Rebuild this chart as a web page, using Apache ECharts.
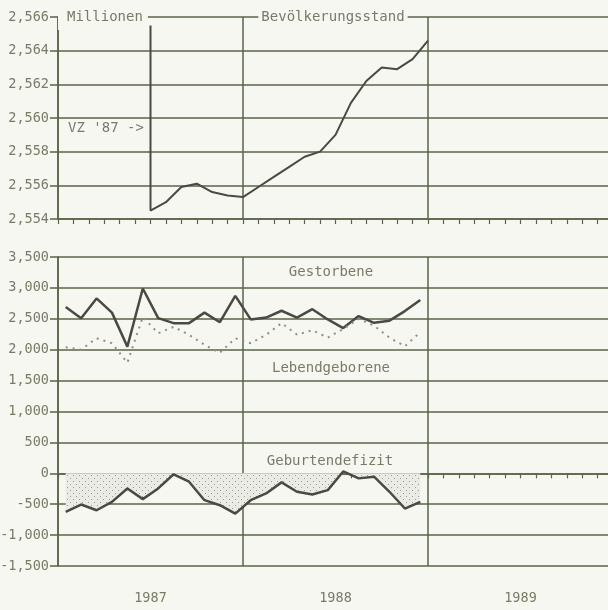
<!DOCTYPE html>
<html>
<head>
<meta charset="utf-8">
<script src="https://cdn.jsdelivr.net/npm/echarts@6/dist/echarts.min.js"></script>
<style>
  html, body { margin: 0; padding: 0; background: #f7f7f2; }
  #chart { width: 608px; height: 610px; }
</style>
</head>
<body>
<div id="chart"></div>
<script>
  // population (Mio.), month-end positions: months since 1.1.1987
  const popMonth = [6, 6, 7, 8, 9, 10, 11, 12, 13, 14, 15, 16, 17, 18, 19, 20, 21, 22, 23, 24];
  const popMillions = [2.5655, 2.5545, 2.5550, 2.5559, 2.5561, 2.5556, 2.5554, 2.5553, 2.5559, 2.5565,
    2.5571, 2.5577, 2.5580, 2.5590, 2.5609, 2.5622, 2.5630, 2.5629, 2.5635, 2.5646];

  // monthly values Jan 1987 .. Dec 1988, plotted at mid-month
  const monthMid = [0.5, 1.5, 2.5, 3.5, 4.5, 5.5, 6.5, 7.5, 8.5, 9.5, 10.5, 11.5,
    12.5, 13.5, 14.5, 15.5, 16.5, 17.5, 18.5, 19.5, 20.5, 21.5, 22.5, 23.5];
  const gestorbene = [2690, 2510, 2830, 2600, 2050, 2990, 2510, 2430, 2430, 2600, 2445, 2870,
    2490, 2520, 2630, 2520, 2655, 2490, 2350, 2545, 2435, 2470, 2625, 2805];
  const lebendgeborene = [2040, 2000, 2185, 2105, 1790, 2530, 2265, 2370, 2240, 2080, 1950, 2185,
    2105, 2240, 2430, 2245, 2315, 2195, 2335, 2500, 2390, 2195, 2055, 2285];
  const defizit = [-625, -505, -598, -462, -245, -418, -245, -16, -136, -435, -516, -652,
    -435, -326, -147, -299, -342, -272, 30, -82, -54, -299, -570, -462];

  const yearLabels = ['1987', '1988', '1989'];

  const bg = '#f7f7f2';
  const gridColor = '#59644a';
  const textColor = '#7a7a68';
  const lineColor = '#4a4a44';
  const font = '14px "DejaVu Sans Mono", monospace';

  function zip(xs, ys) {
    return xs.map(function (x, i) { return [x, ys[i]]; });
  }

  // dotted fill for the deficit area
  function dotPattern() {
    var c = document.createElement('canvas');
    c.width = 6; c.height = 6;
    var ctx = c.getContext('2d');
    ctx.fillStyle = '#ebebe5';
    ctx.fillRect(0, 0, 6, 6);
    ctx.fillStyle = '#9c9c90';
    ctx.fillRect(1, 1, 1, 1);
    ctx.fillRect(4, 4, 1, 1);
    return c;
  }

  // vertical grid only at year boundaries
  var yearSplit = [gridColor];
  for (var i = 1; i < 12; i++) yearSplit.push('rgba(0,0,0,0)');

  function monthAxis(gridIndex, withLabels) {
    return {
      type: 'value',
      gridIndex: gridIndex,
      min: 0,
      max: 36,
      interval: 1,
      axisLine: { show: true, lineStyle: { color: gridColor, width: 1.5 } },
      axisTick: { show: true, length: 5, lineStyle: { color: gridColor, width: 1.2 } },
      splitLine: { show: true, lineStyle: { color: yearSplit, width: 1.5 } },
      axisLabel: withLabels ? {
        show: true,
        margin: 25,
        color: textColor,
        fontFamily: 'DejaVu Sans Mono',
        fontSize: 13.5,
        formatter: function (v) { return v % 12 === 6 ? yearLabels[(v - 6) / 12] : ''; }
      } : { show: false }
    };
  }

  function valueAxis(gridIndex, min, max, interval, fmt) {
    return {
      type: 'value',
      gridIndex: gridIndex,
      min: min,
      max: max,
      interval: interval,
      axisLine: { show: true, lineStyle: { color: gridColor, width: 1.5 } },
      axisTick: { show: true, length: 8, lineStyle: { color: gridColor, width: 1.5 } },
      splitLine: { show: true, lineStyle: { color: gridColor, width: 1.5 } },
      axisLabel: {
        margin: 9,
        color: textColor,
        fontFamily: 'DejaVu Sans Mono',
        fontSize: 13.5,
        formatter: fmt
      }
    };
  }

  function label(text, x, y, align, padding) {
    return {
      type: 'text',
      x: x,
      y: y,
      z: 100,
      style: {
        text: text,
        font: font,
        fill: textColor,
        align: align,
        verticalAlign: 'middle',
        backgroundColor: padding ? bg : null,
        padding: padding || 0
      }
    };
  }

  var chart = echarts.init(document.getElementById('chart'));
  chart.setOption({
    animation: false,
    backgroundColor: bg,
    grid: [
      { left: 58, top: 17, width: 555, height: 202, containLabel: false, outerBoundsMode: 'none' },
      { left: 58, top: 257, width: 555, height: 309, containLabel: false, outerBoundsMode: 'none' }
    ],
    xAxis: [monthAxis(0, false), monthAxis(1, true)],
    yAxis: [
      valueAxis(0, 2.554, 2.566, 0.002, function (v) { return v.toFixed(3).replace('.', ','); }),
      valueAxis(1, -1500, 3500, 500, function (v) { return v.toLocaleString('en-US'); })
    ],
    graphic: [
      label('Millionen', 58, 17, 'left', [6, 5, 6, 9]),
      label('Bevölkerungsstand', 333, 17, 'center', [2, 3]),
      label("VZ '87 ->", 68, 128, 'left'),
      label('Gestorbene', 331, 272, 'center'),
      label('Lebendgeborene', 331, 368, 'center'),
      label('Geburtendefizit', 330, 461, 'center')
    ],
    series: [
      {
        name: 'Bevölkerungsstand',
        type: 'line',
        xAxisIndex: 0,
        yAxisIndex: 0,
        data: zip(popMonth, popMillions),
        symbol: 'none',
        lineStyle: { color: lineColor, width: 2 }
      },
      {
        name: 'Gestorbene',
        type: 'line',
        xAxisIndex: 1,
        yAxisIndex: 1,
        data: zip(monthMid, gestorbene),
        symbol: 'none',
        lineStyle: { color: lineColor, width: 2.5 }
      },
      {
        name: 'Lebendgeborene',
        type: 'line',
        xAxisIndex: 1,
        yAxisIndex: 1,
        data: zip(monthMid, lebendgeborene),
        symbol: 'none',
        lineStyle: { color: '#8e8e82', width: 2, type: [2, 5] }
      },
      {
        name: 'Geburtendefizit',
        type: 'line',
        xAxisIndex: 1,
        yAxisIndex: 1,
        data: zip(monthMid, defizit),
        symbol: 'none',
        lineStyle: { color: lineColor, width: 2.5 },
        areaStyle: { color: { image: dotPattern(), repeat: 'repeat' }, origin: 0, opacity: 1 }
      }
    ]
  });
</script>
</body>
</html>
